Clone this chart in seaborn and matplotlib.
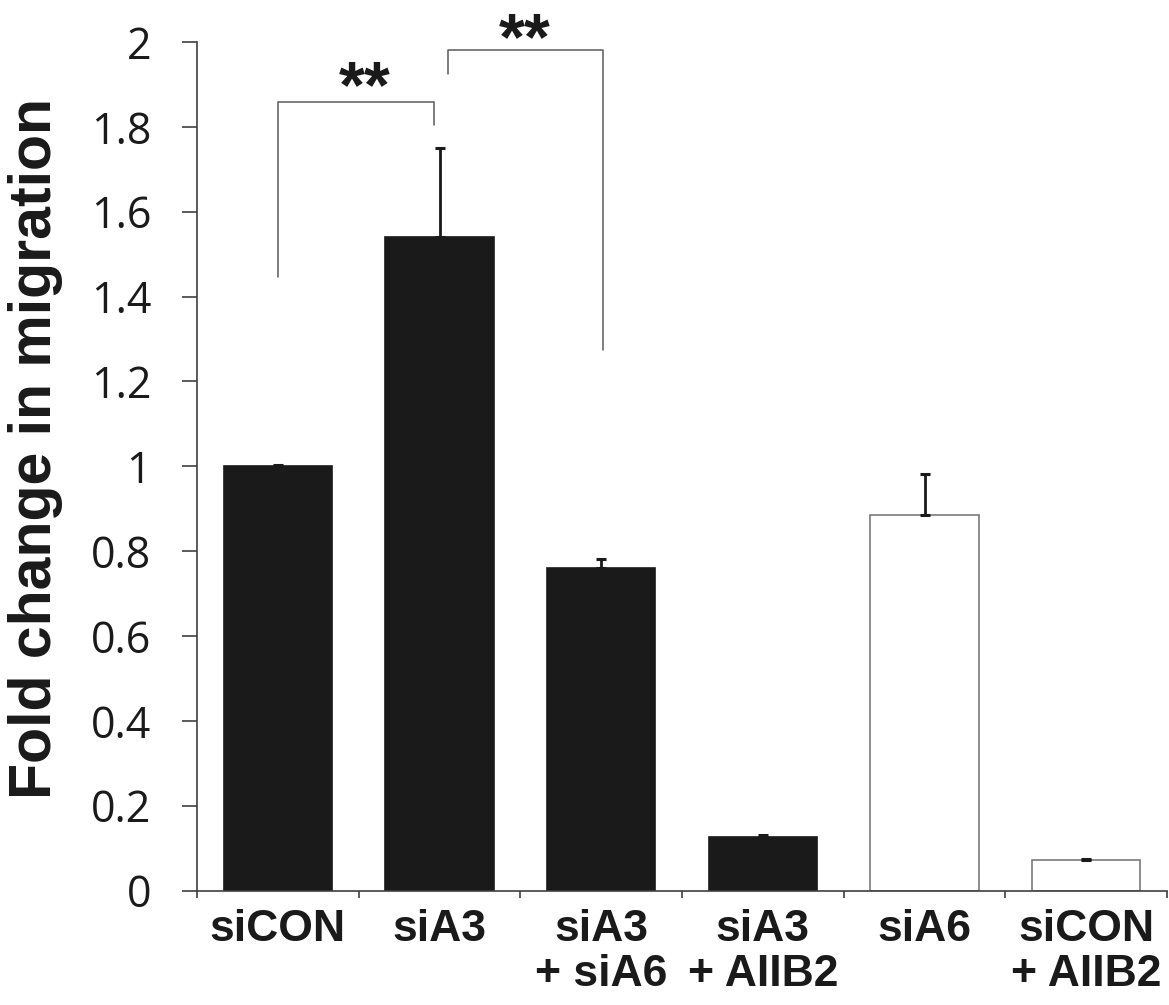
import matplotlib
matplotlib.use("Agg")
import matplotlib.pyplot as plt
import seaborn as sns
import pandas as pd
import numpy as np

categories = ["siCON", "siA3", "siA3\n+ siA6", "siA3\n+ AIIB2", "siA6", "siCON\n+ AIIB2"]
means = [1.0, 1.54, 0.76, 0.125, 0.885, 0.071]
errors = [0.002, 0.21, 0.022, 0.005, 0.096, 0.003]
bar_colors = ["#1a1a1a", "#1a1a1a", "#1a1a1a", "#1a1a1a", "#ffffff", "#ffffff"]
edge_colors = ["#1a1a1a", "#1a1a1a", "#1a1a1a", "#1a1a1a", "#7a7a7a", "#7a7a7a"]
y_ticks = [0, 0.2, 0.4, 0.6, 0.8, 1.0, 1.2, 1.4, 1.6, 1.8, 2.0]
y_tick_labels = ["0", "0.2", "0.4", "0.6", "0.8", "1", "1.2", "1.4", "1.6", "1.8", "2"]
# significance brackets: (x_left, x_right, y_top, y_left_bottom, y_right_bottom, text_x, text_y)
brackets = [
    (0.0, 0.966, 1.859, 1.445, 1.804, 0.54, 1.846),
    (1.052, 2.01, 1.982, 1.925, 1.274, 1.53, 1.960),
]
sig_label = "**"

sns.set_theme(style="white")
plt.rcParams["font.family"] = ["Liberation Sans", "DejaVu Sans"]

df = pd.DataFrame({"cond": categories, "val": means})

fig = plt.figure(figsize=(11.69, 10.05), dpi=100)
ax = fig.add_axes([197/1169, 114.5/1005, (1167-197)/1169, (890.5-42)/1005])

sns.barplot(data=df, x="cond", y="val", hue="cond", palette=bar_colors,
            legend=False, width=0.67, ax=ax, errorbar=None, linewidth=1.2)
for patch, ec in zip(ax.patches, edge_colors):
    patch.set_edgecolor(ec)

xpos = np.arange(len(categories))
ax.errorbar(xpos, means, yerr=[np.zeros(len(means)), errors], fmt="none",
            ecolor="#1a1a1a", elinewidth=2.0, capsize=3.8, capthick=2.2, zorder=5)

ax.set_xlim(-0.5, len(categories) - 0.5)
ax.set_ylim(0, 2.0)
ax.set_yticks(y_ticks)
ax.set_yticklabels(y_tick_labels, fontfamily="Open Sans", fontsize=31)
ax.set_xticks(xpos)
ax.set_xticklabels(categories, fontsize=32, fontweight="bold", linespacing=1.15)
ax.set_xticks(np.arange(-0.5, len(categories)), minor=True)
ax.tick_params(axis="x", which="major", length=0, pad=13, colors="#1a1a1a")
ax.tick_params(axis="x", which="minor", bottom=True, length=5, width=1.2, color="#404040")
ax.tick_params(axis="y", which="major", left=True, length=11, width=1.2, color="#404040",
               pad=22, labelcolor="#1a1a1a")
ax.set_xlabel("")
ax.set_ylabel("")
fig.text(36/1169, (1005-448)/1005, "Fold change in migration", rotation=90,
         ha="center", va="center", fontsize=42.5, fontweight="bold", color="#1a1a1a")

for s in ["top", "right"]:
    ax.spines[s].set_visible(False)
for s in ["left", "bottom"]:
    ax.spines[s].set_color("#404040")
    ax.spines[s].set_linewidth(1.2)

for xl, xr, yt, ylb, yrb, tx, ty in brackets:
    ax.plot([xl, xl, xr, xr], [ylb, yt, yt, yrb], color="#5a5a5a", lw=1.1,
            clip_on=False, zorder=4)
    ax.text(tx, ty, sig_label, ha="center", va="baseline", fontsize=48,
            fontweight="bold", color="#1a1a1a", clip_on=False)

fig.savefig("out.png", dpi=100, facecolor="white")
